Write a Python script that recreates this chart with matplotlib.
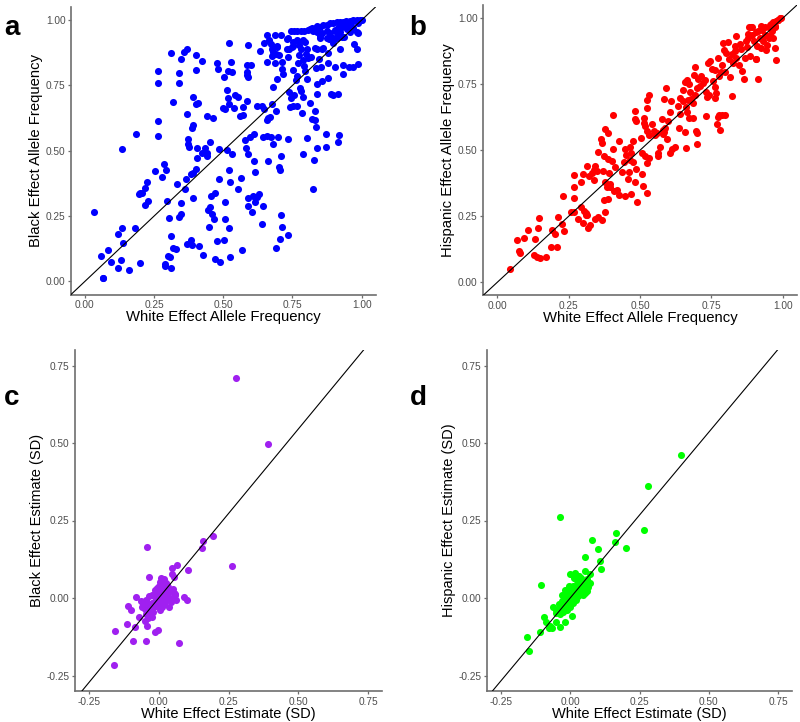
import matplotlib
matplotlib.use("Agg")
import matplotlib.pyplot as plt
import numpy as np

plt.rcParams['font.family'] = ['Liberation Sans', 'DejaVu Sans']
plt.rcParams['axes.unicode_minus'] = False

# panel a: white vs black allele frequency
white_af_a = [
    0.184, 0.263, 0.263, 0.134, 0.263, 0.266, 0.311, 0.317, 0.347, 0.359, 0.370, 0.341, 0.341, 0.400,
    0.401, 0.425, 0.392, 0.400, 0.410, 0.369, 0.392, 0.386, 0.442, 0.464, 0.478, 0.481, 0.528, 0.522,
    0.518, 0.533, 0.502, 0.512, 0.517, 0.542, 0.554, 0.498, 0.507, 0.520, 0.539, 0.572, 0.560, 0.570,
    0.587, 0.590, 0.584, 0.599, 0.584, 0.584, 0.588, 0.623, 0.639, 0.649, 0.677, 0.661, 0.670, 0.690,
    0.658, 0.580, 0.595, 0.612, 0.643, 0.659, 0.673, 0.699, 0.678, 0.734, 0.804, 0.831, 0.834, 0.870,
    0.919, 0.913, 0.840, 0.870, 0.372, 0.372, 0.375, 0.404, 0.433, 0.453, 0.483, 0.582, 0.512, 0.647,
    0.659, 0.664, 0.671, 0.686, 0.710, 0.729, 0.633, 0.676, 0.678, 0.676, 0.694, 0.690, 0.701, 0.659,
    0.686, 0.714, 0.734, 0.739, 0.751, 0.753, 0.773, 0.775, 0.780, 0.796, 0.801, 0.798, 0.775, 0.789,
    0.805, 0.769, 0.790, 0.753, 0.796, 0.816, 0.714, 0.716, 0.695, 0.768, 0.763, 0.803, 0.678, 0.777,
    0.780, 0.739, 0.754, 0.746, 0.788, 0.813, 0.741, 0.753, 0.766, 0.786, 0.819, 0.831, 0.837, 0.837,
    0.857, 0.877, 0.890, 0.895, 0.913, 0.835, 0.853, 0.880, 0.904, 0.931, 0.934, 0.954, 0.970, 0.988,
    0.837, 0.861, 0.877, 0.845, 0.920, 0.881, 0.900, 0.916, 0.936, 0.972, 0.982, 0.986, 0.745, 0.757,
    0.768, 0.780, 0.793, 0.851, 0.849, 0.873, 0.897, 0.910, 0.928, 0.957, 0.984, 0.735, 0.765, 0.789,
    0.693, 0.729, 0.747, 0.831, 0.855, 0.897,
    0.819, 0.836, 0.837, 0.849, 0.861, 0.873, 0.885, 0.897, 0.910, 0.922, 0.934, 0.945, 0.957, 0.970,
    0.982, 0.994, 1.000, 0.837, 0.855, 0.873, 0.885, 0.903, 0.915, 0.928, 0.940, 0.951, 0.963, 0.910,
    0.922, 0.946, 0.970, 0.988, 0.805, 0.812, 0.825,
    0.034, 0.059, 0.064, 0.067, 0.084, 0.096, 0.120, 0.120, 0.131, 0.136, 0.139, 0.161, 0.180, 0.199,
    0.194, 0.201, 0.207, 0.216, 0.223, 0.219, 0.227, 0.253, 0.277, 0.286, 0.294, 0.295, 0.304, 0.310,
    0.302, 0.307, 0.288, 0.288, 0.312, 0.320, 0.328, 0.334, 0.349, 0.341, 0.347, 0.363, 0.364, 0.369,
    0.384, 0.388, 0.383, 0.390, 0.390, 0.400, 0.405, 0.424, 0.443, 0.443, 0.413, 0.427, 0.448, 0.446,
    0.451, 0.459, 0.465, 0.455, 0.470, 0.483, 0.471, 0.479, 0.489, 0.505, 0.504, 0.506, 0.522, 0.524,
    0.531, 0.522, 0.523, 0.553, 0.565, 0.567, 0.588, 0.588, 0.591, 0.607, 0.605, 0.614, 0.622, 0.630,
    0.612, 0.616, 0.640, 0.643, 0.661, 0.701, 0.705, 0.708, 0.710, 0.714, 0.704, 0.689, 0.734, 0.787,
    0.825, 0.828,
]
black_af = [
    0.564, 0.612, 0.556, 0.506, 0.804, 0.760, 0.873, 0.685, 0.850, 0.876, 0.889, 0.798, 0.759, 0.868,
    0.808, 0.842, 0.704, 0.678, 0.683, 0.641, 0.597, 0.588, 0.632, 0.624, 0.834, 0.812, 0.839, 0.913,
    0.804, 0.801, 0.781, 0.734, 0.702, 0.715, 0.704, 0.665, 0.658, 0.677, 0.665, 0.669, 0.632, 0.638,
    0.691, 0.903, 0.828, 0.828, 0.801, 0.788, 0.781, 0.673, 0.673, 0.658, 0.677, 0.624, 0.628, 0.653,
    0.619, 0.543, 0.553, 0.564, 0.553, 0.556, 0.551, 0.552, 0.527, 0.545, 0.549, 0.619, 0.591, 0.566,
    0.561, 0.535, 0.511, 0.513, 0.546, 0.525, 0.516, 0.509, 0.509, 0.533, 0.505, 0.511, 0.501, 0.911,
    0.941, 0.923, 0.908, 0.944, 0.941, 0.928, 0.881, 0.888, 0.876, 0.862, 0.898, 0.872, 0.868, 0.841,
    0.837, 0.841, 0.858, 0.890, 0.916, 0.900, 0.917, 0.903, 0.889, 0.918, 0.891, 0.872, 0.868, 0.849,
    0.854, 0.836, 0.825, 0.808, 0.806, 0.857, 0.813, 0.793, 0.773, 0.787, 0.769, 0.773, 0.744, 0.742,
    0.728, 0.724, 0.714, 0.702, 0.704, 0.684, 0.666, 0.670, 0.670, 0.645, 0.622, 0.652, 0.716, 0.756,
    0.767, 0.777, 0.716, 0.712, 0.717, 0.818, 0.821, 0.837, 0.820, 0.794, 0.830, 0.820, 0.821, 0.831,
    0.890, 0.893, 0.875, 0.852, 0.891, 0.929, 0.929, 0.946, 0.936, 0.908, 0.891, 0.951, 0.959, 0.959,
    0.959, 0.959, 0.959, 0.939, 0.930, 0.930, 0.930, 0.932, 0.936, 0.953, 0.953, 0.932, 0.925, 0.925,
    0.902, 0.891, 0.898, 0.894, 0.891, 0.911,
    0.968, 0.971, 0.978, 0.974, 0.981, 0.983, 0.987, 0.987, 0.991, 0.994, 0.994, 0.996, 0.997, 1.000,
    1.000, 1.000, 1.000, 0.955, 0.949, 0.958, 0.949, 0.962, 0.968, 0.974, 0.978, 0.981, 0.987, 0.949,
    0.955, 0.965, 0.970, 0.987, 0.962, 0.966, 0.960,
    0.264, 0.097, 0.014, 0.014, 0.119, 0.076, 0.180, 0.053, 0.083, 0.205, 0.146, 0.043, 0.203, 0.069,
    0.334, 0.339, 0.340, 0.358, 0.380, 0.294, 0.309, 0.422, 0.400, 0.450, 0.425, 0.309, 0.242, 0.173,
    0.098, 0.092, 0.067, 0.058, 0.050, 0.127, 0.125, 0.373, 0.301, 0.245, 0.257, 0.352, 0.392, 0.143,
    0.159, 0.139, 0.412, 0.416, 0.319, 0.431, 0.473, 0.492, 0.490, 0.480, 0.135, 0.102, 0.209, 0.274,
    0.283, 0.257, 0.240, 0.326, 0.340, 0.391, 0.087, 0.154, 0.074, 0.237, 0.160, 0.303, 0.428, 0.380,
    0.486, 0.206, 0.095, 0.352, 0.394, 0.120, 0.488, 0.318, 0.288, 0.328, 0.266, 0.304, 0.322, 0.335,
    0.462, 0.418, 0.218, 0.290, 0.459, 0.436, 0.426, 0.480, 0.254, 0.210, 0.162, 0.128, 0.178, 0.488,
    0.354, 0.463,
]

# panel b: white vs hispanic allele frequency
white_af_b = [
    0.362, 0.367, 0.377, 0.388, 0.404, 0.404, 0.428, 0.446, 0.466, 0.474, 0.484, 0.481, 0.486, 0.504,
    0.513, 0.513, 0.517, 0.530, 0.524, 0.523, 0.524, 0.533, 0.541, 0.549, 0.554, 0.561, 0.570, 0.577,
    0.579, 0.584, 0.589, 0.591, 0.584, 0.599, 0.593, 0.582, 0.605, 0.610, 0.612, 0.624, 0.632, 0.639,
    0.640, 0.638, 0.649, 0.652, 0.660, 0.661, 0.659, 0.668, 0.666, 0.670, 0.675, 0.679, 0.657, 0.663,
    0.672, 0.686, 0.692, 0.686, 0.695, 0.699, 0.690, 0.694, 0.700, 0.703, 0.710, 0.715, 0.719, 0.727,
    0.731, 0.733, 0.731, 0.742, 0.739, 0.745, 0.751, 0.754, 0.761, 0.762, 0.762, 0.766, 0.769, 0.774,
    0.777, 0.782, 0.786, 0.798, 0.772, 0.777, 0.784, 0.789, 0.791, 0.795, 0.797, 0.803, 0.809, 0.811,
    0.817, 0.821, 0.821, 0.826, 0.832, 0.833, 0.838, 0.838, 0.847, 0.850, 0.855, 0.858, 0.864, 0.867,
    0.871, 0.875, 0.879, 0.882, 0.890, 0.885, 0.892, 0.899, 0.906, 0.910, 0.914, 0.920, 0.923, 0.928,
    0.931, 0.937, 0.943, 0.946, 0.951, 0.955, 0.960, 0.964, 0.972, 0.976, 0.966, 0.976, 0.984, 0.990,
    0.972, 0.995, 0.983, 0.972, 0.955, 0.937, 0.926, 0.914, 0.908, 0.891, 0.879, 0.955, 0.966, 0.923,
    0.906, 0.700,
    0.045, 0.070, 0.075, 0.079, 0.094, 0.106, 0.131, 0.129, 0.139, 0.148, 0.143, 0.145, 0.169, 0.188,
    0.191, 0.203, 0.209, 0.212, 0.226, 0.234, 0.229, 0.260, 0.269, 0.269, 0.269, 0.270, 0.283, 0.292,
    0.294, 0.300, 0.301, 0.305, 0.310, 0.312, 0.315, 0.316, 0.317, 0.325, 0.323, 0.331, 0.339, 0.344,
    0.351, 0.339, 0.344, 0.354, 0.352, 0.366, 0.369, 0.373, 0.379, 0.374, 0.378, 0.386, 0.388, 0.389,
    0.393, 0.396, 0.396, 0.402, 0.409, 0.414, 0.418, 0.428, 0.438, 0.444, 0.448, 0.451, 0.457, 0.462,
    0.469, 0.465, 0.470, 0.474, 0.483, 0.486, 0.491, 0.506, 0.506, 0.509, 0.519, 0.523, 0.523, 0.530,
    0.562, 0.564, 0.605,
]
hisp_af = [
    0.542, 0.527, 0.582, 0.567, 0.633, 0.506, 0.534, 0.506, 0.514, 0.534, 0.650, 0.617, 0.612, 0.547,
    0.621, 0.602, 0.590, 0.711, 0.689, 0.659, 0.571, 0.558, 0.600, 0.571, 0.557, 0.564, 0.514, 0.620,
    0.577, 0.568, 0.583, 0.734, 0.693, 0.611, 0.542, 0.562, 0.643, 0.686, 0.506, 0.514, 0.668, 0.697,
    0.636, 0.586, 0.730, 0.688, 0.665, 0.509, 0.568, 0.691, 0.645, 0.621, 0.720, 0.694, 0.758, 0.766,
    0.751, 0.679, 0.710, 0.621, 0.571, 0.564, 0.785, 0.817, 0.735, 0.769, 0.744, 0.783, 0.756, 0.766,
    0.630, 0.701, 0.720, 0.710, 0.830, 0.838, 0.807, 0.763, 0.802, 0.739, 0.697, 0.716, 0.600, 0.625,
    0.634, 0.577, 0.634, 0.634, 0.848, 0.782, 0.795, 0.823, 0.908, 0.878, 0.797, 0.870, 0.909, 0.845,
    0.777, 0.707, 0.865, 0.830, 0.893, 0.876, 0.851, 0.931, 0.823, 0.902, 0.884, 0.801, 0.770, 0.848,
    0.915, 0.890, 0.924, 0.965, 0.966, 0.855, 0.937, 0.914, 0.845, 0.893, 0.769, 0.924, 0.971, 0.956,
    0.914, 0.937, 0.880, 0.899, 0.924, 0.962, 0.979, 0.950, 0.889, 0.840, 0.984, 0.991, 0.994, 1.000,
    0.968, 1.000, 0.994, 0.970, 0.975, 0.968, 0.962, 0.950, 0.949, 0.965, 0.939, 0.937, 0.924, 0.886,
    0.844, 0.523,
    0.051, 0.159, 0.119, 0.110, 0.168, 0.197, 0.163, 0.102, 0.097, 0.091, 0.205, 0.244, 0.095, 0.135,
    0.197, 0.184, 0.135, 0.246, 0.221, 0.194, 0.327, 0.268, 0.268, 0.318, 0.359, 0.405, 0.240, 0.379,
    0.285, 0.410, 0.225, 0.271, 0.253, 0.264, 0.256, 0.442, 0.205, 0.216, 0.403, 0.415, 0.426, 0.442,
    0.422, 0.386, 0.240, 0.246, 0.492, 0.234, 0.423, 0.477, 0.268, 0.312, 0.381, 0.359, 0.314, 0.468,
    0.413, 0.372, 0.359, 0.461, 0.347, 0.436, 0.350, 0.331, 0.417, 0.457, 0.325, 0.481, 0.391, 0.416,
    0.335, 0.463, 0.489, 0.457, 0.379, 0.428, 0.303, 0.489, 0.409, 0.366, 0.478, 0.337, 0.451, 0.471,
    0.480, 0.489, 0.489,
]

# panel c: white vs black effect estimate (SD)
white_beta_c = [
    0.276, 0.392, 0.194, 0.158, 0.154, 0.261, -0.042, -0.035, 0.066, 0.049, 0.104, 0.092, 0.103, 0.057,
    -0.080, -0.109, -0.098, -0.072, -0.112, -0.086, -0.042, -0.156, -0.092, -0.045, -0.013, -0.004,
    0.073, -0.159, 0.038, 0.048, 0.055,
    0.008, 0.020, 0.005, 0.017, 0.029, 0.002, -0.007, 0.023, 0.035, 0.043, 0.011, -0.001, -0.013, 0.017,
    0.035, 0.053, 0.040, 0.030, 0.045, 0.020, 0.005, -0.005, -0.015, -0.025, -0.030, -0.040, -0.020,
    -0.010, 0.000, 0.010, -0.035, -0.045, -0.030, -0.020, -0.050, -0.055, -0.060, -0.045, -0.035,
    -0.025, -0.015, 0.000, 0.010, 0.015, 0.025, -0.008, 0.002, 0.012, 0.025, 0.028, -0.040, -0.025,
    0.003, 0.020, 0.062, 0.060, 0.050, -0.065, -0.050, -0.010, 0.008,
]
black_beta = [
    0.709, 0.496, 0.200, 0.183, 0.162, 0.104, 0.163, 0.067, 0.108, 0.096, 0.089, 0.002, -0.008, 0.012,
    0.004, -0.026, -0.039, -0.060, -0.083, -0.095, -0.089, -0.105, -0.138, -0.139, -0.110, -0.103,
    -0.144, -0.215, -0.029, 0.077, 0.069,
    0.063, 0.060, 0.053, 0.047, 0.042, 0.039, 0.031, 0.031, 0.037, 0.026, 0.020, 0.015, 0.010, 0.010,
    0.015, 0.015, 0.000, -0.005, -0.012, -0.010, 0.000, -0.005, -0.010, -0.015, -0.020, -0.025, -0.030,
    -0.025, -0.020, -0.030, -0.040, -0.050, -0.055, -0.045, -0.035, -0.020, -0.030, -0.005, 0.005,
    0.010, 0.025, 0.030, 0.045, 0.055, 0.050, 0.005, -0.008, 0.002, 0.010, 0.022, -0.065, -0.060,
    -0.040, -0.020, -0.005, 0.010, 0.030, -0.010, -0.075, 0.015, 0.025,
]

# panel d: white vs hispanic effect estimate (SD)
white_beta_d = [
    0.399, 0.282, -0.035, 0.268, 0.165, 0.160, 0.201, 0.078, 0.099, 0.053, 0.108, 0.111, -0.106, -0.063,
    -0.093, -0.087, -0.154, -0.109, -0.150, -0.078, -0.066, -0.038, -0.018, 0.005, -0.052, 0.060,
    0.050, 0.055, 0.070, 0.000, 0.016, -0.072, -0.050,
    0.000, 0.010, 0.020, 0.030, 0.040, 0.045, 0.035, 0.025, 0.015, 0.005, -0.005, -0.010, -0.015,
    -0.020, -0.025, -0.030, -0.035, -0.015, -0.005, 0.005, 0.015, 0.025, 0.035, 0.050, 0.055, 0.060,
    0.040, 0.020, 0.010, -0.008, -0.020, -0.030, -0.040, -0.045, -0.025, -0.010, 0.000, 0.010, 0.028,
    0.045, 0.055, 0.065, -0.005, 0.030, 0.012, -0.018, -0.028, -0.050, 0.002, 0.018, 0.038, -0.012,
    0.022, 0.070,
]
hisp_beta = [
    0.461, 0.361, 0.260, 0.219, 0.209, 0.181, 0.162, 0.187, 0.157, 0.132, 0.119, 0.094, 0.042, -0.028,
    -0.060, -0.076, -0.127, -0.111, -0.170, -0.096, -0.098, -0.092, -0.076, -0.058, -0.049, 0.022,
    0.039, 0.087, 0.077, 0.076, 0.080, -0.090, -0.076,
    0.000, 0.010, 0.020, 0.030, 0.035, 0.050, 0.055, 0.045, 0.035, 0.025, 0.015, 0.000, -0.010,
    -0.020, -0.030, -0.040, -0.050, -0.030, -0.020, -0.010, 0.005, 0.015, 0.020, 0.030, 0.045, 0.060,
    0.065, 0.060, 0.040, 0.030, 0.005, -0.010, -0.020, -0.035, -0.045, -0.040, -0.030, -0.015, 0.005,
    0.010, 0.015, 0.035, 0.040, 0.070, 0.065, 0.025, 0.010, -0.040, 0.012, 0.028, 0.042, -0.005,
    -0.005, 0.050,
]

# slopes of the reference lines drawn in the bottom panels
line_slope_c = 1.09
line_slope_d = 1.07

W, H = 800, 722
fig = plt.figure(figsize=(W / 100, H / 100), dpi=100)


def px_axes(x0, x1, ytop, ybot):
    return fig.add_axes([x0 / W, 1 - ybot / H, (x1 - x0) / W, (ybot - ytop) / H])


def style(ax, lim, ticks, xlabel, ylabel, fs):
    ax.set_xlim(lim)
    ax.set_ylim(lim)
    ax.set_xticks(ticks)
    ax.set_yticks(ticks)
    ax.set_xticklabels([f"{t:.2f}" for t in ticks])
    ax.set_yticklabels([f"{t:.2f}" for t in ticks])
    for s in ['top', 'right']:
        ax.spines[s].set_visible(False)
    for s in ['left', 'bottom']:
        ax.spines[s].set_color('#6e6e6e')
        ax.spines[s].set_linewidth(1.2)
    ax.tick_params(colors='#6e6e6e', labelcolor='#4d4d4d', labelsize=7.3, length=2.5, width=0.9, pad=1.5)
    ax.set_xlabel(xlabel, fontsize=fs, labelpad=0)
    ax.set_ylabel(ylabel, fontsize=fs, labelpad=2)


ax_a = px_axes(71, 375.5, 7, 294.5)
ax_a.scatter(white_af_a, black_af, s=26, color='#0000ff', linewidths=0, zorder=2)
ax_a.axline((0, 0), slope=1, color='black', lw=0.8, zorder=3)
style(ax_a, (-0.05, 1.05), [0, 0.25, 0.5, 0.75, 1.0],
      'White Effect Allele Frequency', 'Black Effect Allele Frequency', 10.7)

ax_b = px_axes(483, 797, 5, 295.5)
ax_b.scatter(white_af_b, hisp_af, s=26, color='#ff0000', linewidths=0, zorder=2)
ax_b.axline((0, 0), slope=1, color='black', lw=0.8, zorder=3)
style(ax_b, (-0.05, 1.05), [0, 0.25, 0.5, 0.75, 1.0],
      'White Effect Allele Frequency', 'Hispanic Effect Allele Frequency', 10.7)

ax_c = px_axes(75, 382, 350, 691)
ax_c.scatter(white_beta_c, black_beta, s=26, color='#a020f0', linewidths=0, zorder=2)
ax_c.axline((0, 0), slope=line_slope_c, color='black', lw=0.8, zorder=3)
style(ax_c, (-0.3, 0.8), [-0.25, 0, 0.25, 0.5, 0.75],
      'White Effect Estimate (SD)', 'Black Effect Estimate (SD)', 10.5)

ax_d = px_axes(487, 792, 350, 691)
ax_d.scatter(white_beta_d, hisp_beta, s=26, color='#00ff00', linewidths=0, zorder=2)
ax_d.axline((0, 0), slope=line_slope_d, color='black', lw=0.8, zorder=3)
style(ax_d, (-0.3, 0.8), [-0.25, 0, 0.25, 0.5, 0.75],
      'White Effect Estimate (SD)', 'Hispanic Effect Estimate (SD)', 10.5)

for letter, (x, y) in zip('abcd', [(12, 28), (418, 28), (12, 398), (418, 398)]):
    fig.text(x / W, 1 - y / H, letter, fontsize=20, fontweight='bold', ha='center', va='center')

fig.savefig('out.png', dpi=100)
